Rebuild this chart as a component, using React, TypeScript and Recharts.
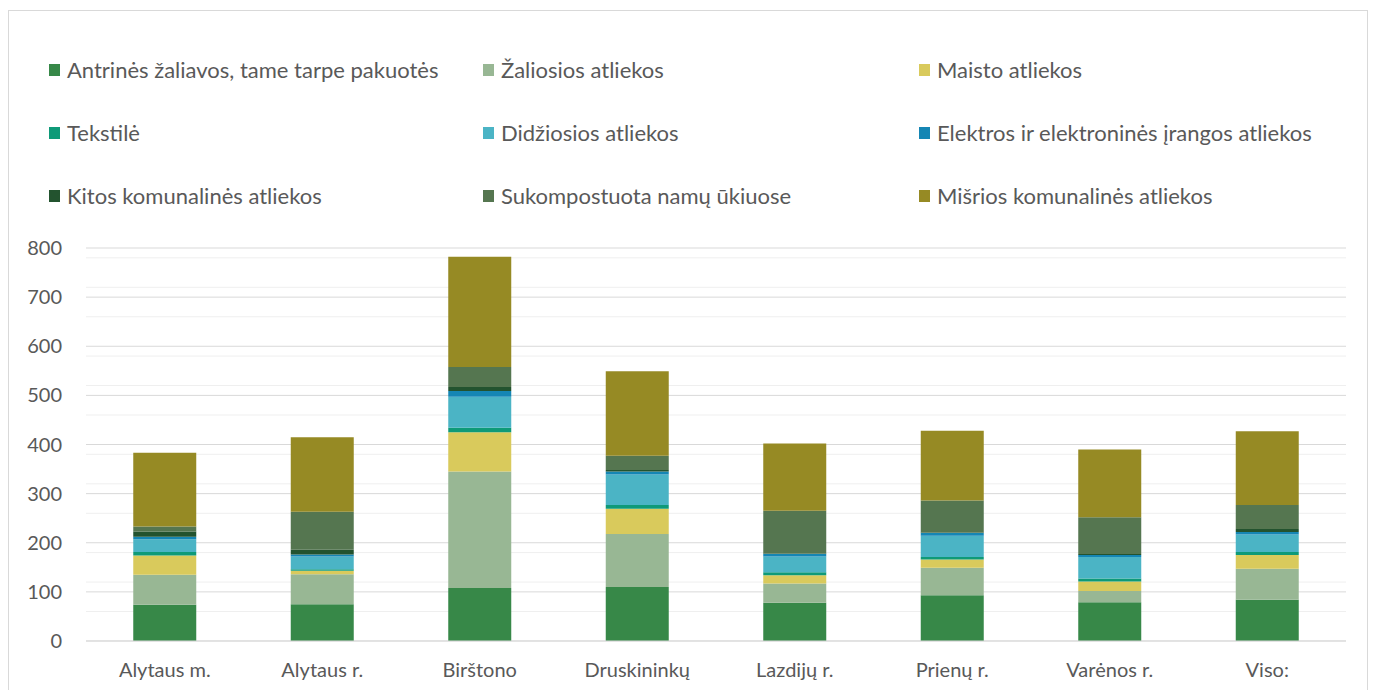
import React from 'react';
import { BarChart, Bar, XAxis, YAxis, CartesianGrid } from 'recharts';

const regions = ['Alytaus m.', 'Alytaus r.', 'Birštono', 'Druskininkų', 'Lazdijų r.', 'Prienų r.', 'Varėnos r.', 'Viso:'];

const antrines = [74, 75, 108, 110, 78, 93, 79, 84];
const zaliosios = [61, 61, 237, 108, 39, 56, 23, 63];
const maisto = [39, 7, 80, 51, 17, 17, 19, 28];
const tekstile = [7, 3, 9, 8, 6, 5, 6, 6];
const didziosios = [26, 26, 63, 62, 32, 43, 44, 36];
const elektros = [5, 4, 12, 6, 5, 6, 4, 5];
const kitos = [11, 10, 8, 3, 1, 1, 2, 6];
const sukomp = [10, 77, 41, 29, 87, 65, 75, 49];
const misrios = [150, 152, 224, 172, 137, 142, 138, 150];

const yTicks = [0, 100, 200, 300, 400, 500, 600, 700, 800];
const minorTicks = [20, 40, 60, 80, 120, 140, 160, 180, 220, 240, 260, 280, 320, 340, 360, 380, 420, 440, 460, 480, 520, 540, 560, 580, 620, 640, 660, 680, 720, 740, 760, 780];

const series = [
  { key: 'antrines', name: 'Antrinės žaliavos, tame tarpe pakuotės', color: '#378848', vals: antrines },
  { key: 'zaliosios', name: 'Žaliosios atliekos', color: '#98b794', vals: zaliosios },
  { key: 'maisto', name: 'Maisto atliekos', color: '#d9ca5c', vals: maisto },
  { key: 'tekstile', name: 'Tekstilė', color: '#0e9a78', vals: tekstile },
  { key: 'didziosios', name: 'Didžiosios atliekos', color: '#4bb4c5', vals: didziosios },
  { key: 'elektros', name: 'Elektros ir elektroninės įrangos atliekos', color: '#1586b4', vals: elektros },
  { key: 'kitos', name: 'Kitos komunalinės atliekos', color: '#23532f', vals: kitos },
  { key: 'sukomp', name: 'Sukompostuota namų ūkiuose', color: '#557650', vals: sukomp },
  { key: 'misrios', name: 'Mišrios komunalinės atliekos', color: '#968a24', vals: misrios },
];

const data = regions.map((r, i) => {
  const row: Record<string, string | number> = { name: r };
  series.forEach(s => { row[s.key] = s.vals[i]; });
  return row;
});

const legendCols = [40, 474, 910];
const legendRows = [58, 121, 184];

export default function App() {
  return (
    <div style={{ position: 'relative', width: 1358, height: 680, marginTop: 2, border: '1px solid #d9d9d9', fontFamily: 'Lato, sans-serif', background: '#fff' }}>
      {series.map((s, i) => (
        <div key={s.key} style={{ position: 'absolute', left: legendCols[i % 3], top: legendRows[Math.floor(i / 3)] - 13, height: 26, display: 'flex', alignItems: 'center', fontSize: 22, color: '#595959', whiteSpace: 'nowrap' }}>
          <span style={{ display: 'inline-block', width: 11, height: 12, background: s.color, marginRight: 7, marginTop: 2 }} />
          {s.name}
        </div>
      ))}
      <BarChart width={1358} height={680} data={data} margin={{ top: 237, right: 21, left: 17, bottom: 0 }} barCategoryGap="30%">
        <CartesianGrid vertical={false} horizontalValues={minorTicks} stroke="#efefef" />
        <CartesianGrid vertical={false} horizontalValues={yTicks} stroke="#d9d9d9" />
        <XAxis dataKey="name" axisLine={{ stroke: '#d9d9d9' }} tickLine={false} tickSize={0} tickMargin={22} height={50}
          tick={{ fill: '#595959', fontSize: 20, fontFamily: 'Lato, sans-serif' }} interval={0} />
        <YAxis domain={[0, 800]} ticks={yTicks} axisLine={false} tickLine={false} tickSize={0} tickMargin={24} width={60}
          tick={{ fill: '#595959', fontSize: 20, fontFamily: 'Lato, sans-serif' }} />
        {series.map(s => (
          <Bar key={s.key} dataKey={s.key} name={s.name} stackId="a" fill={s.color} isAnimationActive={false} />
        ))}
      </BarChart>
    </div>
  );
}
